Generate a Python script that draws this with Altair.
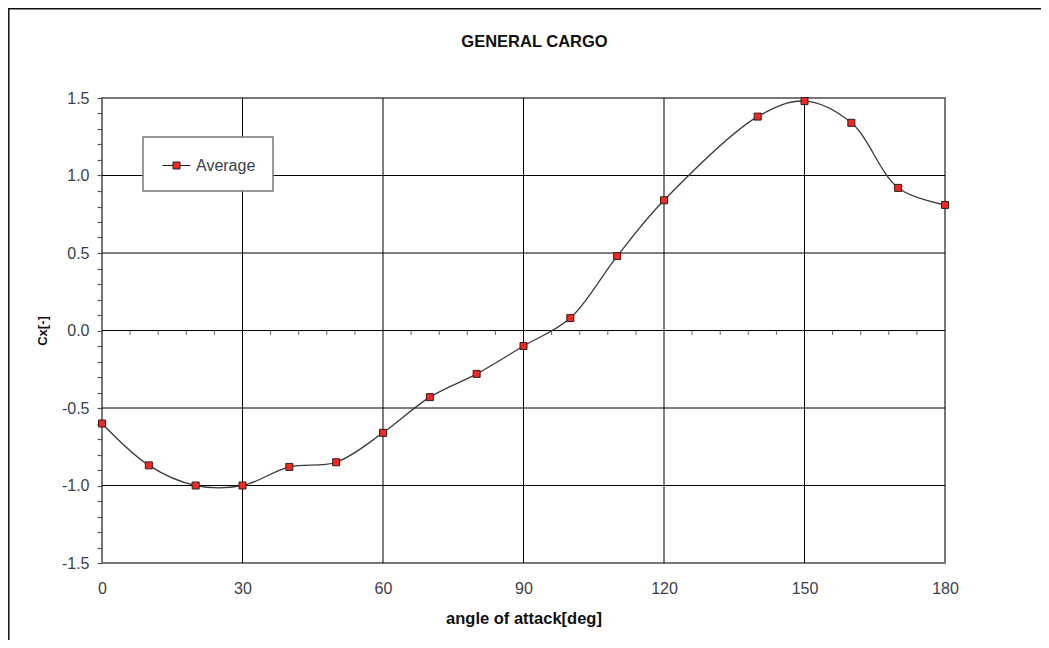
import altair as alt
import pandas as pd

# ---- data ----
angles = [0, 10, 20, 30, 40, 50, 60, 70, 80, 90, 100, 110, 120, 140, 150, 160, 170, 180]
cx_avg = [-0.60, -0.87, -1.00, -1.00, -0.88, -0.85, -0.66, -0.43, -0.28, -0.10,
          0.08, 0.48, 0.84, 1.38, 1.48, 1.34, 0.92, 0.81]
series_name = "Average"
chart_title = "GENERAL CARGO"

x_major = [0, 30, 60, 90, 120, 150, 180]
x_grid = [30, 60, 90, 120, 150]
x_minor = [6, 12, 18, 24, 36, 42, 48, 54, 66, 72, 78, 84, 96, 102, 108, 114,
           126, 132, 138, 144, 156, 162, 168, 174]
y_ticks = [round(-1.5 + 0.1 * i, 1) for i in range(31)]
y_grid = [-1.0, -0.5, 0.0, 0.5, 1.0]

df = pd.DataFrame({"angle": angles, "cx": cx_avg, "series": series_name})
gx = pd.DataFrame({"angle": x_grid})
gy = pd.DataFrame({"cx": y_grid})
mx = pd.DataFrame({"angle": x_minor})
tdf = pd.DataFrame({"t": [chart_title]})

FONT = "Liberation Sans"
xs = alt.Scale(domain=[0, 180], nice=False, zero=False)
ys = alt.Scale(domain=[-1.5, 1.5], nice=False, zero=False)

x_axis = alt.Axis(values=x_major, title="angle of attack[deg]", grid=False,
                  domain=False, ticks=False, labelPadding=17, titlePadding=14,
                  labelFontSize=16, titleFontSize=16.5, labelFont=FONT,
                  titleFont=FONT, labelColor="#3a3f4a", titleColor="#111",
                  titleFontWeight="bold", labelFlush=False, labelOverlap=False)
y_axis = alt.Axis(values=y_ticks, title="Cx[-]", grid=False, domain=False,
                  tickSize=5, tickColor="#555", tickWidth=1.2, labelPadding=8,
                  labelExpr="abs(datum.value*2 - round(datum.value*2)) < 0.001 ? (datum.value < -0.001 ? '-' : '') + format(abs(datum.value), '.1f') : ''",
                  labelFontSize=16, titleFontSize=13, labelFont=FONT, titleFont=FONT,
                  labelColor="#3a3f4a", titleColor="#111", titleFontWeight="bold",
                  titlePadding=12, labelFlush=False, labelOverlap=False)

X = alt.X("angle:Q", scale=xs, axis=x_axis)
Y = alt.Y("cx:Q", scale=ys, axis=y_axis)

grid_x = alt.Chart(gx).mark_rule(color="#000", strokeWidth=1).encode(
    x=X, y=alt.value(0), y2=alt.value(465))
grid_y = alt.Chart(gy).mark_rule(color="#000", strokeWidth=1).encode(
    y=Y, x=alt.value(0), x2=alt.value(843))
minor_x = alt.Chart(mx).mark_tick(color="#222", orient="vertical", size=4,
                                  thickness=1, yOffset=2.5).encode(
    x=X, y=alt.datum(0, scale=ys, axis=y_axis))

line = alt.Chart(df).mark_line(color="#3a3a3a", strokeWidth=1.3,
                               interpolate="catmull-rom").encode(x=X, y=Y)

legend_path = "M-0.818,0H0.136M0.773,0H1.727M0.136,-0.318H0.773V0.318H0.136Z"
points = alt.Chart(df).mark_point(shape="square", size=49, filled=True, opacity=1,
                                  stroke="#3a1a1a", strokeWidth=1).encode(
    x=X, y=Y,
    color=alt.Color("series:N", scale=alt.Scale(range=["#ee2a24"]),
                    legend=alt.Legend(title=None, orient="none", legendX=41, legendY=39,
                                      padding=17, symbolType=legend_path, symbolSize=484,
                                      symbolStrokeColor="#222", symbolStrokeWidth=1,
                                      labelOffset=13, labelFontSize=16, labelFont=FONT,
                                      labelColor="#3a3f4a", fillColor="white",
                                      strokeColor="#777")))

title_mark = alt.Chart(tdf).mark_text(font=FONT, fontSize=16.5, fontWeight="bold",
                                      color="#111", align="center",
                                      baseline="alphabetic").encode(
    text="t:N", x=alt.value(432.5), y=alt.value(-51))

frame_left = alt.Chart(tdf).mark_rule(color="#111", strokeWidth=1.5).encode(
    x=alt.value(-93.2), y=alt.value(-90), y2=alt.value(542))
frame_top = alt.Chart(tdf).mark_rule(color="#111", strokeWidth=1.5).encode(
    y=alt.value(-89.2), x=alt.value(-94), x2=alt.value(939))

chart = alt.layer(grid_x, grid_y, line, points, minor_x, title_mark,
                  frame_left, frame_top).properties(
    width=843, height=465,
    autosize=alt.AutoSizeParams(type="none"),
    padding={"left": 94, "top": 90, "right": 96, "bottom": 77},
).configure_view(stroke="#777", strokeWidth=2).configure_legend(
    strokeWidth=1.5).configure_axis(labelOverlap=False)

chart.save("out.html", embed_options={"renderer": "svg", "actions": False})
